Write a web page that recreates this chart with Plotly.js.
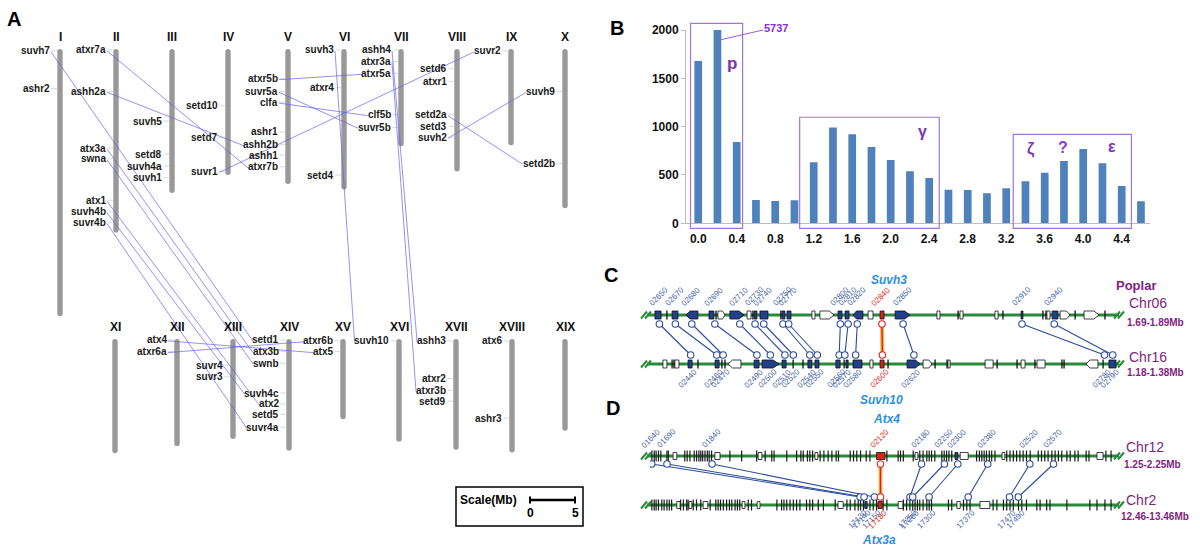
<!DOCTYPE html>
<html>
<head>
<meta charset="utf-8">
<script src="https://cdn.plot.ly/plotly-3.0.1.min.js"></script>
<style>
html,body{margin:0;padding:0;background:#ffffff;}
#chart{width:1200px;height:551px;}
</style>
</head>
<body>
<div id="chart"></div>
<script>
// ================= DATA =================
// ---- Panel B : Ks distribution of duplicated gene pairs ----
const ksBins   = [0.0,0.2,0.4,0.6,0.8,1.0,1.2,1.4,1.6,1.8,2.0,2.2,2.4,2.6,2.8,3.0,3.2,3.4,3.6,3.8,4.0,4.2,4.4,4.6];
const ksCounts = [1680,5737,841,241,231,238,631,990,921,790,655,538,469,348,345,310,362,434,524,645,769,621,386,228];
const ksTickVals = [0.0,0.4,0.8,1.2,1.6,2.0,2.4,2.8,3.2,3.6,4.0,4.4];
const ksTickText = ['0.0','0.4','0.8','1.2','1.6','2.0','2.4','2.8','3.2','3.6','4.0','4.4'];
const countTicks = [0,500,1000,1500,2000];
const peakLabels = ['p','γ','ζ','?','ε'];

// ---- Panel A : poplar chromosomes (Mb) and SET genes ----
const chrNames = ['I','II','III','IV','V','VI','VII','VIII','IX','X','XI','XII','XIII','XIV','XV','XVI','XVII','XVIII','XIX'];
const chrLenMb = [29.7,20.4,16.0,14.0,15.0,15.6,10.8,13.6,10.7,17.7,12.7,11.9,11.1,12.4,8.9,11.4,12.3,12.6,10.2];
const geneNames = ['suvh7','ashr2',
  'atxr7a','ashh2a','atx3a','swna','atx1','suvh4b','suvr4b',
  'suvh5','setd8','suvh4a','suvh1',
  'setd10','setd7','suvr1',
  'atxr5b','suvr5a','clfa','ashr1','ashh2b','ashh1','atxr7b',
  'suvh3','atxr4','setd4',
  'ashh4','atxr3a','atxr5a','clf5b','suvr5b',
  'setd6','atxr1','setd2a','setd3','suvh2',
  'suvr2',
  'suvh9','setd2b',
  'atx4','atxr6a',
  'suvr4','suvr3',
  'setd1','atx3b','swnb','suvh4c','atx2','setd5','suvr4a',
  'atxr6b','atx5',
  'suvh10',
  'ashh3','atxr2','atxr3b','setd9',
  'atx6','ashr3'];
const geneChr = ['I','I',
  'II','II','II','II','II','II','II',
  'III','III','III','III',
  'IV','IV','IV',
  'V','V','V','V','V','V','V',
  'VI','VI','VI',
  'VII','VII','VII','VII','VII',
  'VIII','VIII','VIII','VIII','VIII',
  'IX',
  'X','X',
  'XII','XII',
  'XIII','XIII',
  'XIV','XIV','XIV','XIV','XIV','XIV','XIV',
  'XV','XV',
  'XVI',
  'XVII','XVII','XVII','XVII',
  'XVIII','XVIII'];
const genePosMb = [0.2,4.4,
  0.1,4.7,11.0,12.2,16.8,18.1,19.3,
  8.0,11.7,13.0,14.3,
  6.3,9.8,13.6,
  3.3,4.7,5.9,9.2,10.6,11.8,13.1,
  0.1,4.3,14.0,
  0.1,1.4,2.7,7.3,8.7,
  2.2,3.6,7.3,8.6,9.8,
  0.2,
  4.7,12.7,
  0.1,1.4,
  2.9,4.2,
  0.1,1.4,2.7,6.0,7.2,8.4,9.8,
  0.2,1.4,
  0.2,
  0.2,4.4,5.7,6.9,
  0.2,8.8];
const pairFrom = ['suvh7','atxr7a','ashh2a','atx3a','swna','atx1','suvh4b','suvr4b','suvr1','atxr5b','suvr5a','clfa','suvh3','ashh4','atxr3a','setd2a','suvh2','atx4','atxr6a'];
const pairTo   = ['setd1','atxr7b','ashh2b','atx3b','swnb','atx2','suvh4c','suvr4a','suvr2','atxr5a','suvr5b','clf5b','suvh10','ashh3','atxr3b','setd2b','suvh9','atx5','atxr6b'];

// ---- Panel C : Chr06 (1.69-1.89 Mb) vs Chr16 (1.18-1.38 Mb), kb from region start ----
const c06Ids = ['02650','02670','02680','02690','02710','02730','02740','02750','02770','02800','02810','02820','02840','02850','02910','02940'];
const c06Pos = [4.0,10.8,17.8,27.6,38.2,44.7,48.4,56.6,59.0,81.0,84.3,88.2,98.7,107.7,158.3,172.0];
const c16Ids = ['02440','02460','02470','02490','02500','02510','02520','02540','02550','02560','02570','02580','02600','02620','02780','02790'];
const c16Pos = [17.3,28.4,31.1,45.5,51.2,57.4,61.0,68.0,71.2,80.5,82.9,87.5,98.9,112.3,193.4,196.9];
const cFocus = 12;
const c06GStart = [2.1,7.2,9.4,15.3,25.1,28.1,28.9,34.0,41.3,43.8,44.3,46.8,55.7,56.2,58.3,68.9,72.3,80.0,83.0,86.4,92.8,97.9,104.3,122.1,131.1,131.9,146.8,150.2,157.9,167.2,168.5,168.9,171.1,174.5,180.9,184.7,193.6];
const c06GEnd   = [4.7,7.2,11.9,20.4,27.2,28.1,31.9,40.0,43.0,43.8,45.5,50.2,55.7,57.4,60.0,70.2,78.3,81.7,84.7,90.6,94.9,99.6,110.6,123.4,131.1,133.2,148.1,150.2,158.7,167.2,168.5,170.2,173.6,178.7,180.9,191.1,193.6];
const c06GKind  = ['b','t','b','b<','b','t','w>','b>','w','t','b','b','t','b','b','w','w>','b','b','b<','w','r','b>','w','t','w','w','t','b','t','t','w','b','w>','t','w>','t'];
const c16GStart = [5.5,9.4,10.2,10.6,16.2,20.4,27.7,30.6,31.9,33.2,44.3,47.7,56.2,60.9,65.1,67.2,70.2,79.1,82.6,83.4,86.4,93.6,97.9,101.3,109.4,116.2,121.3,126.4,126.8,142.6,147.7,156.2,157.9,163.8,164.7,175.3,176.2,185.5,192.8,195.3];
const c16GEnd   = [7.2,9.4,10.2,12.3,17.9,20.4,29.4,30.6,31.9,38.7,46.4,54.9,57.9,60.9,65.1,68.9,71.9,80.9,82.6,84.3,90.2,94.9,99.6,101.3,114.9,120.0,121.3,126.4,127.7,146.0,147.7,156.2,159.6,163.8,168.1,175.3,176.2,190.6,192.8,198.3];
const c16GKind  = ['w','t','t','w','b','t','b','t','t','w<','b','b>','b','t','t','b','b','b','t','b','b','w','r','t','b>','w>','t','t','w','w','t','t','w','t','w','t','t','w<','t','b'];

// ---- Panel D : Chr12 (1.25-2.25 Mb) vs Chr2 (12.46-13.46 Mb), kb from region start ----
const d12Ids = ['01640','01690','01840','02120','02180','02250','02300','02380','02520','02570'];
const d12Pos = [3.6,36.2,132,490.4,577.7,626.4,654.9,718.5,808.1,858.5];
const d2Ids  = ['17130','17140','17150','17180','17250','17260','17300','17370','17470','17490'];
const d2Pos  = [447.2,455.5,477.4,490.4,553.2,558.9,593.8,677.0,764.9,783.6];
const dFocus = 3;
const d12Ticks = [4,9,13,18,23,36,39,74,79,85,94,99,104,108,112,117,122,126,131,170,195,227,245,259,264,291,312,321,326,335,340,346,362,370,379,387,396,401,426,433,440,448,460,468,504,528,533,539,560,574,581,589,594,599,606,621,626,631,636,642,695,701,706,711,716,722,727,734,759,766,773,780,787,794,801,809,826,833,840,847,855,862,869,876,887,894,904,911,928,934,970,981];
const d12BStart = [49,138,230,351,482,564,649,660,749,951];
const d12BEnd   = [57,149,238,357,500,570,655,677,755,964];
const d12BKind  = ['w','w','w','w','r','w','b','w','w','w'];
const d2Ticks = [4,9,13,18,25,30,36,41,46,65,71,78,81,92,99,108,128,140,145,150,156,163,169,174,181,186,191,209,216,270,280,285,291,298,305,312,319,333,340,346,358,369,394,419,426,436,443,448,454,468,475,482,496,504,539,546,553,559,564,569,574,581,589,594,599,635,642,667,674,681,730,738,752,759,766,773,784,791,801,823,830,844,851,887,936,951,968,981];
const d2BStart = [57,83,113,196,228,400,457,485,528,653,702];
const d2BEnd   = [64,89,123,202,234,411,462,494,538,660,723];
const d2BKind  = ['w','w','w','w','w','w','b','r','w','w','w'];

// ================= DRAWING =================
const FONT = '"Liberation Sans", Arial, sans-serif';
const shapes = [], annotations = [], traces = [];
function txt(x, y, text, size, color, weight, extra) {
  const a = {x: x, y: y, xref: 'x', yref: 'y', text: text, showarrow: false,
    xanchor: 'center', yanchor: 'middle',
    font: {family: FONT, size: size, color: color, weight: weight || 'normal'}};
  if (extra) Object.assign(a, extra);
  annotations.push(a);
}
const cv = document.createElement('canvas').getContext('2d');
function textW(t, size, weight) { cv.font = (weight || 'normal') + ' ' + size + 'px "Liberation Sans", Arial'; return cv.measureText(t).width; }

// ---------- Panel A ----------
const topRowX = [60,116,172,228,288,344,401,457,511,565];
const botRowX = [115,177,233,289,343,399,456,512,565];
const ROW_TOP = [49,339];
const PX_PER_MB = 9;
const CHR_R = 2.7;
function chrInfo(name) {
  const i = chrNames.indexOf(name);
  const row = i < 10 ? 0 : 1;
  return {i: i, row: row, x: row ? botRowX[i - 10] : topRowX[i], top: ROW_TOP[row]};
}
chrNames.forEach(function (nm, i) {
  const c = chrInfo(nm);
  const y0 = c.top, y1 = c.top + chrLenMb[i] * PX_PER_MB, r = CHR_R, x = c.x;
  shapes.push({type: 'path', xref: 'x', yref: 'y', layer: 'below',
    path: 'M' + (x - r) + ',' + (y0 + r) + ' Q' + (x - r) + ',' + y0 + ' ' + x + ',' + y0 + ' Q' + (x + r) + ',' + y0 + ' ' + (x + r) + ',' + (y0 + r) +
      ' L' + (x + r) + ',' + (y1 - r) + ' Q' + (x + r) + ',' + y1 + ' ' + x + ',' + y1 + ' Q' + (x - r) + ',' + y1 + ' ' + (x - r) + ',' + (y1 - r) + ' Z',
    fillcolor: '#999999', line: {width: 0}});
  txt(x, c.top - 12, nm, 12, '#111111', 'bold');
});
const geneXY = {};
const leadX = [], leadY = [];
geneNames.forEach(function (g, k) {
  const c = chrInfo(geneChr[k]);
  const y = c.top + genePosMb[k] * PX_PER_MB;
  const xr = c.x - 9;
  const w = textW(g, 10, 'bold');
  geneXY[g] = {right: xr, left: xr - w - 1, y: y};
  txt(xr, y, g, 10, '#1a1a1a', 'bold', {xanchor: 'right', borderpad: 0});
  leadX.push(xr + 0.5, c.x - CHR_R, null); leadY.push(y, y, null);
});
traces.push({type: 'scatter', mode: 'lines', x: leadX, y: leadY, xaxis: 'x', yaxis: 'y',
  line: {color: '#cfcfcf', width: 0.8}, hoverinfo: 'skip'});
const pairX = [], pairY = [];
pairFrom.forEach(function (f, k) {
  const a = geneXY[f], b = geneXY[pairTo[k]];
  pairX.push(a.right, b.left, null); pairY.push(a.y + 1, b.y + 1, null);
});
traces.push({type: 'scatter', mode: 'lines', x: pairX, y: pairY, xaxis: 'x', yaxis: 'y',
  line: {color: 'rgba(95,95,235,0.85)', width: 0.8}, hoverinfo: 'skip'});
txt(14, 19, 'A', 20, '#000', 'bold');
// scale box
shapes.push({type: 'rect', xref: 'x', yref: 'y', x0: 456, x1: 583, y0: 487, y1: 526, line: {color: '#000', width: 1.5}});
txt(488, 500, 'Scale(Mb)', 12, '#000', 'bold');
const SCALE_MB = 5;
shapes.push({type: 'line', xref: 'x', yref: 'y', x0: 530, x1: 530 + SCALE_MB * PX_PER_MB, y0: 500, y1: 500, line: {color: '#000', width: 2.5}});
shapes.push({type: 'line', xref: 'x', yref: 'y', x0: 530, x1: 530, y0: 496.5, y1: 503.5, line: {color: '#000', width: 2}});
shapes.push({type: 'line', xref: 'x', yref: 'y', x0: 530 + SCALE_MB * PX_PER_MB, x1: 530 + SCALE_MB * PX_PER_MB, y0: 496.5, y1: 503.5, line: {color: '#000', width: 2}});
txt(530, 513, '0', 12, '#000', 'bold');
txt(530 + SCALE_MB * PX_PER_MB, 513, String(SCALE_MB), 12, '#000', 'bold');

// ---------- Panel B ----------
const B_X0 = 686, B_X1 = 1150, B_XR = [-0.127, 4.694];
const B_Y0 = 223.3, B_Y1 = 30, B_YMAX = 2000;
function bx(v) { return B_X0 + (v - B_XR[0]) / (B_XR[1] - B_XR[0]) * (B_X1 - B_X0); }
function by(v) { return B_Y0 - v / B_YMAX * (B_Y0 - B_Y1); }
traces.push({type: 'bar', x: ksBins, y: ksCounts, xaxis: 'x2', yaxis: 'y2', width: 0.08,
  marker: {color: '#4f81bd', line: {width: 0}}, hoverinfo: 'skip'});
const BOX_COL = '#a274dc';
const boxes = [[-0.08, 0.461, 2069], [1.054, 2.504, 1097], [3.273, 4.501, 921]];
boxes.forEach(function (b) {
  shapes.push({type: 'rect', xref: 'x', yref: 'y', x0: bx(b[0]), x1: bx(b[1]), y0: by(-52), y1: by(b[2]),
    line: {color: BOX_COL, width: 1.2}});
});
const PEAK_COL = '#7a34b4';
txt(732, 63, peakLabels[0], 17, PEAK_COL, 'bold');
txt(922, 131, peakLabels[1], 16, PEAK_COL, 'bold');
txt(1031, 149, peakLabels[2], 16, PEAK_COL, 'bold');
txt(1063, 147, peakLabels[3], 16, '#8a3ad6', 'bold');
txt(1112, 146, peakLabels[4], 16, PEAK_COL, 'bold');
txt(776, 28, String(ksCounts[1]), 11, '#8a2be2', 'bold');
shapes.push({type: 'line', xref: 'x', yref: 'y', x0: bx(ksBins[1]) + 3.5, y0: by(1900), x1: 763, y1: 30,
  line: {color: '#9b59e6', width: 1}});
txt(617, 28, 'B', 20, '#000', 'bold');

// ---------- Panels C & D ----------
const TRACK_COL = '#2a8a3c';
const NAVY = '#223f8a', LINK = '#2b4c9b', RED = '#d8231b', IDCOL = '#4a66a8';
function track(y) {
  shapes.push({type: 'line', xref: 'x', yref: 'y', x0: 647, x1: 1119, y0: y, y1: y, layer: 'below',
    line: {color: TRACK_COL, width: 3.2}});
  [[641, 645], [645, 649], [1114, 1118], [1118, 1122]].forEach(function (s) {
    shapes.push({type: 'line', xref: 'x', yref: 'y', x0: s[0], x1: s[1] + 2, y0: y + 3.5, y1: y - 3.5,
      line: {color: TRACK_COL, width: 2}});
  });
}
function genes(xref, starts, ends, kinds, yc, hb, ht, tickX, tickY) {
  for (let i = 0; i < starts.length; i++) {
    const k = kinds[i], s = starts[i], e = ends[i];
    if (k === 't') { tickX.push(s, s, null); tickY.push(yc - ht, yc + ht, null); continue; }
    const fill = k[0] === 'b' ? NAVY : (k[0] === 'r' ? RED : '#ffffff');
    const a = (e - s) * 0.35;
    let path;
    if (k[1] === '>') path = 'M' + s + ',' + (yc - hb) + ' L' + (e - a) + ',' + (yc - hb) + ' L' + e + ',' + yc + ' L' + (e - a) + ',' + (yc + hb) + ' L' + s + ',' + (yc + hb) + ' Z';
    else if (k[1] === '<') path = 'M' + e + ',' + (yc - hb) + ' L' + (s + a) + ',' + (yc - hb) + ' L' + s + ',' + yc + ' L' + (s + a) + ',' + (yc + hb) + ' L' + e + ',' + (yc + hb) + ' Z';
    else path = 'M' + s + ',' + (yc - hb) + ' L' + e + ',' + (yc - hb) + ' L' + e + ',' + (yc + hb) + ' L' + s + ',' + (yc + hb) + ' Z';
    shapes.push({type: 'path', xref: xref, yref: 'y', path: path, fillcolor: fill, line: {color: '#111', width: 0.8}});
  }
}
function links(xa, topPos, botPos, topIds, botIds, focus, yTopTrack, yBotTrack, yTopC, yBotC, topLabY, botLabY) {
  const lx = [], ly = [];
  for (let i = 0; i < topPos.length; i++) {
    if (i === focus) continue;
    lx.push(topPos[i], botPos[i], null); ly.push(yTopC, yBotC, null);
  }
  traces.push({type: 'scatter', mode: 'lines', x: lx, y: ly, xaxis: xa, yaxis: 'y', line: {color: LINK, width: 1.1}, hoverinfo: 'skip'});
  traces.push({type: 'scatter', mode: 'lines', x: [topPos[focus], botPos[focus]], y: [yTopC, yBotC], xaxis: xa, yaxis: 'y', line: {color: '#f5b94c', width: 4}, hoverinfo: 'skip'});
  traces.push({type: 'scatter', mode: 'lines', x: [topPos[focus], botPos[focus]], y: [yTopC, yBotC], xaxis: xa, yaxis: 'y', line: {color: RED, width: 1.4}, hoverinfo: 'skip'});
  const mx = topPos.concat(botPos);
  const my = topPos.map(function () { return yTopC; }).concat(botPos.map(function () { return yBotC; }));
  const mc = topPos.map(function (_, i) { return i === focus ? RED : LINK; }).concat(botPos.map(function (_, i) { return i === focus ? RED : LINK; }));
  traces.push({type: 'scatter', mode: 'markers', x: mx, y: my, xaxis: xa, yaxis: 'y',
    marker: {symbol: 'circle', size: 6.5, color: '#ffffff', line: {color: mc, width: 1.1}}, hoverinfo: 'skip'});
  const axref = xa === 'x3' ? 'x3' : 'x4';
  topIds.forEach(function (id, i) {
    annotations.push({x: topPos[i], y: topLabY, xref: axref, yref: 'y', xshift: -1, text: id, showarrow: false, textangle: -45,
      xanchor: 'center', yanchor: 'middle', font: {family: FONT, size: 8, color: i === focus ? '#e0301e' : IDCOL}});
  });
  botIds.forEach(function (id, i) {
    annotations.push({x: botPos[i], y: botLabY, xref: axref, yref: 'y', xshift: -3, text: id, showarrow: false, textangle: -45,
      xanchor: 'center', yanchor: 'middle', font: {family: FONT, size: 8, color: i === focus ? '#e0301e' : IDCOL}});
  });
}
// Panel C
const C_Y06 = 315, C_Y16 = 364;
track(C_Y06); track(C_Y16);
const cTX = [], cTY = [];
genes('x3', c06GStart, c06GEnd, c06GKind, C_Y06, 4, 4.5, cTX, cTY);
genes('x3', c16GStart, c16GEnd, c16GKind, C_Y16, 4, 4.5, cTX, cTY);
traces.push({type: 'scatter', mode: 'lines', x: cTX, y: cTY, xaxis: 'x3', yaxis: 'y', line: {color: '#111', width: 1.3}, hoverinfo: 'skip'});
links('x3', c06Pos, c16Pos, c06Ids, c16Ids, cFocus, C_Y06, C_Y16, C_Y06 + 9, C_Y16 - 9, C_Y06 - 19, C_Y16 + 14);
txt(611, 275, 'C', 20, '#000', 'bold');
const ITAL = {family: FONT, size: 12, color: '#2d8fe3', weight: 'bold', style: 'italic'};
txt(889, 280, 'Suvh3', 12, '#2d8fe3', 'bold', {font: ITAL});
txt(881, 400, 'Suvh10', 12, '#2d8fe3', 'bold', {font: ITAL});
const PURP = '#7f1f80';
txt(1136, 285, 'Poplar', 13, PURP, 'bold');
txt(1148, 303, 'Chr06', 14, PURP, 'normal');
txt(1155, 322, '1.69-1.89Mb', 10, PURP, 'bold');
txt(1148, 357, 'Chr16', 14, PURP, 'normal');
txt(1155, 372, '1.18-1.38Mb', 10, PURP, 'bold');

// Panel D
const D_Y12 = 456, D_Y2 = 505;
track(D_Y12); track(D_Y2);
const dTX = [], dTY = [];
d12Ticks.forEach(function (p) { dTX.push(p, p, null); dTY.push(D_Y12 - 5.5, D_Y12 + 5.5, null); });
d2Ticks.forEach(function (p) { dTX.push(p, p, null); dTY.push(D_Y2 - 5.5, D_Y2 + 5.5, null); });
traces.push({type: 'scatter', mode: 'lines', x: dTX, y: dTY, xaxis: 'x4', yaxis: 'y', line: {color: '#1a1a1a', width: 1.2}, hoverinfo: 'skip'});
genes('x4', d12BStart, d12BEnd, d12BKind, D_Y12, 3.5, 5.5, dTX, dTY);
genes('x4', d2BStart, d2BEnd, d2BKind, D_Y2, 3.5, 5.5, dTX, dTY);
links('x4', d12Pos, d2Pos, d12Ids, d2Ids, dFocus, D_Y12, D_Y2, D_Y12 + 8, D_Y2 - 8, D_Y12 - 18, D_Y2 + 14);
txt(613, 408, 'D', 20, '#000', 'bold');
txt(886, 419, 'Atx4', 12, '#2d8fe3', 'bold', {font: ITAL});
txt(879, 540, 'Atx3a', 12, '#2d8fe3', 'bold', {font: ITAL});
txt(1145, 447, 'Chr12', 14, PURP, 'normal');
txt(1152, 464, '1.25-2.25Mb', 10, PURP, 'bold');
txt(1141, 500, 'Chr2', 14, PURP, 'normal');
txt(1155, 516, '12.46-13.46Mb', 10, PURP, 'bold');

// ================= LAYOUT =================
const W = 1200, H = 551;
const layout = {
  width: W, height: H, margin: {l: 0, r: 0, t: 0, b: 0, pad: 0},
  paper_bgcolor: '#ffffff', plot_bgcolor: 'rgba(0,0,0,0)', showlegend: false,
  xaxis: {range: [0, W], domain: [0, 1], visible: false, fixedrange: true},
  yaxis: {range: [H, 0], domain: [0, 1], visible: false, fixedrange: true},
  xaxis2: {domain: [B_X0 / W, B_X1 / W], range: B_XR, anchor: 'y2', showgrid: false, zeroline: false,
    showline: true, linecolor: '#bdbdbd', linewidth: 1, ticks: '', ticklabelstandoff: 4, tickvals: ksTickVals, ticktext: ksTickText,
    tickfont: {family: FONT, size: 12, color: '#111', weight: 'bold'}, fixedrange: true},
  yaxis2: {domain: [(H - B_Y0) / H, (H - B_Y1) / H], range: [0, B_YMAX], anchor: 'x2', showgrid: false, zeroline: false,
    showline: true, linecolor: '#bdbdbd', linewidth: 1, ticks: 'outside', ticklen: 4, tickcolor: '#bdbdbd',
    tickvals: countTicks, tickfont: {family: FONT, size: 12, color: '#111', weight: 'bold'}, fixedrange: true},
  xaxis3: {domain: [650 / W, 1120 / W], range: [0, 200], anchor: 'y', visible: false, fixedrange: true},
  xaxis4: {domain: [650 / W, 1120 / W], range: [0, 1000], anchor: 'y', visible: false, fixedrange: true},
  shapes: shapes, annotations: annotations
};
Plotly.newPlot('chart', traces, layout, {staticPlot: true, displayModeBar: false});
</script>
</body>
</html>
